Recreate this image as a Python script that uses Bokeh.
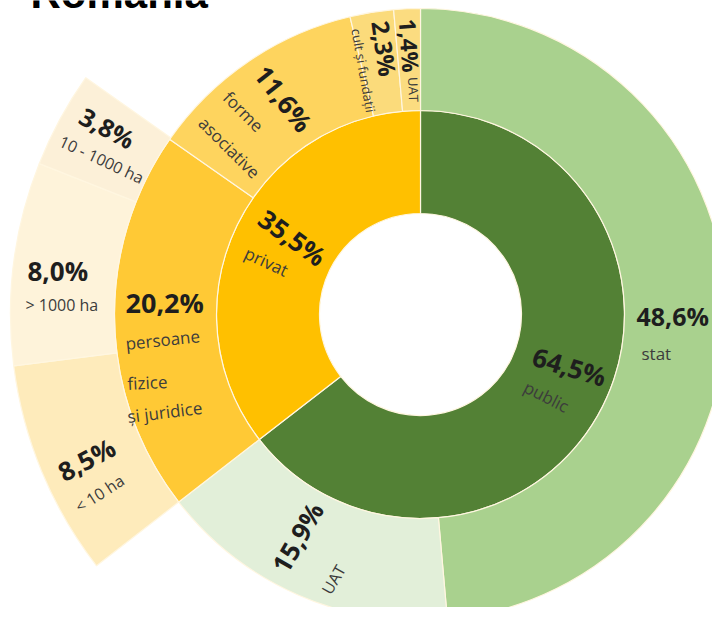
import numpy as np
from bokeh.plotting import figure
from bokeh.models import Range1d, ColumnDataSource, Label
from bokeh.embed import file_html
from bokeh.resources import INLINE
from bokeh.core.properties import value

# ---------------- data ----------------
title_text = "Romania"
inner_names = ["public", "privat"]
inner_values = [64.5, 35.5]
inner_pct = ["64,5%", "35,5%"]

mid_names = ["stat", "UAT", "persoane fizice și juridice", "forme asociative", "cult și fundații", "UAT"]
mid_values = [48.6, 15.9, 20.2, 11.6, 2.3, 1.4]
mid_pct = ["48,6%", "15,9%", "20,2%", "11,6%", "2,3%", "1,4%"]

outer_names = ["< 10 ha", "> 1000 ha", "10 - 1000 ha"]
outer_values = [8.5, 8.0, 3.8]
outer_pct = ["8,5%", "8,0%", "3,8%"]
outer_parent = 2  # index in mid ring ("persoane fizice și juridice")

# ---------------- styles ----------------
inner_colors = ["#538135", "#FFC000"]
mid_colors = ["#A9D18E", "#E2EFD9", "#FFC935", "#FED45E", "#FBDB7B", "#FBDC80"]
outer_colors = ["#FEEBBB", "#FEF3DA", "#FCF0D8"]

W, H = 712, 607
CX, CY = 420, 314          # picture px
R0, R1, R2, R3 = 101, 204, 306, 410


def sy(y):
    return H - y


def sx(x):
    return x


p = figure(width=W, height=H, output_backend="svg", toolbar_location=None,
           x_range=Range1d(0, W), y_range=Range1d(0, H), min_border=0)
p.axis.visible = False
p.grid.visible = False
p.outline_line_color = None
p.background_fill_color = "white"
p.border_fill_color = "white"


def ring(values, start_frac, r_in, r_out, colors):
    fr = np.array(values, dtype=float) / 100.0
    f1 = start_frac + np.cumsum(fr)
    f0 = f1 - fr
    src = ColumnDataSource(dict(
        start=np.pi / 2 - 2 * np.pi * f1,
        end=np.pi / 2 - 2 * np.pi * f0,
        color=colors,
    ))
    p.annular_wedge(x=sx(CX), y=sy(CY), inner_radius=r_in, outer_radius=r_out,
                    start_angle="start", end_angle="end", direction="anticlock",
                    fill_color="color", line_color="#FFF6E0", line_width=1.2,
                    source=src)
    return f0, f1


ring(inner_values, 0.0, R0, R1, inner_colors)
mf0, mf1 = ring(mid_values, 0.0, R1, R2, mid_colors)
ring(outer_values, mf0[outer_parent], R2, R3, outer_colors)

# ---------------- labels ----------------
# (text, x, y, angle_deg, size_px, bold, align)
labels = [
    (mid_pct[0], 636, 315, 0, 25, True, "left"),
    (mid_names[0], 641, 353, 0, 17, False, "left"),
    (inner_pct[0], 569, 366, -17, 26, True, "center"),
    (inner_names[0], 546, 396, -27, 17, False, "center"),
    (inner_pct[1], 292, 237, -36, 26, True, "center"),
    (inner_names[1], 266, 261, -25, 17, False, "center"),
    (mid_pct[2], 125, 302, 0, 27, True, "left"),
    ("persoane", 125, 343, 6, 17, False, "left"),
    ("fizice", 127, 383, 3, 17, False, "left"),
    ("și juridice", 127, 416, 7, 17, False, "left"),
    (mid_pct[3], 283, 98, -52, 26, True, "center"),
    ("forme", 243, 111, -45, 17, False, "center"),
    ("asociative", 229, 147, -45, 17, False, "center"),
    (mid_pct[4], 384, 48, -82, 24, True, "center"),
    (mid_names[4], 363, 70, -80, 13, False, "center"),
    (mid_pct[5], 409, 45, -86, 23, True, "center"),
    (mid_names[5], 413, 89, -88, 13, False, "center"),
    (outer_pct[2], 107, 127, -28, 25, True, "center"),
    (outer_names[2], 101, 159, -25, 16, False, "center"),
    (outer_pct[1], 27, 270, 0, 26, True, "left"),
    (outer_names[1], 25, 304, 0, 16, False, "left"),
    (outer_pct[0], 86, 459, 28, 26, True, "center"),
    (outer_names[0], 99, 493, 33, 16, False, "center"),
    (mid_pct[1], 297, 537, 60, 26, True, "center"),
    (mid_names[1], 333, 579, 60, 16, False, "center"),
]

for t, x, y, a, s, b, al in labels:
    p.text(x=[sx(x)], y=[sy(y)], text=[t], angle=a, angle_units="deg",
           text_font=value("Open Sans"), text_font_size=f"{s}px",
           text_font_style="bold" if b else "normal",
           text_color="#1E1E1E" if b else "#3C3C3C",
           text_align=al, text_baseline="middle")

title = Label(x=30, y=sy(-7), x_units="screen", y_units="screen", text=title_text,
              text_font="Liberation Sans", text_font_size="42px",
              text_font_style="bold", text_color="black",
              text_align="left", text_baseline="middle")
p.add_layout(title)

open("out.html", "w").write(file_html(p, INLINE))
